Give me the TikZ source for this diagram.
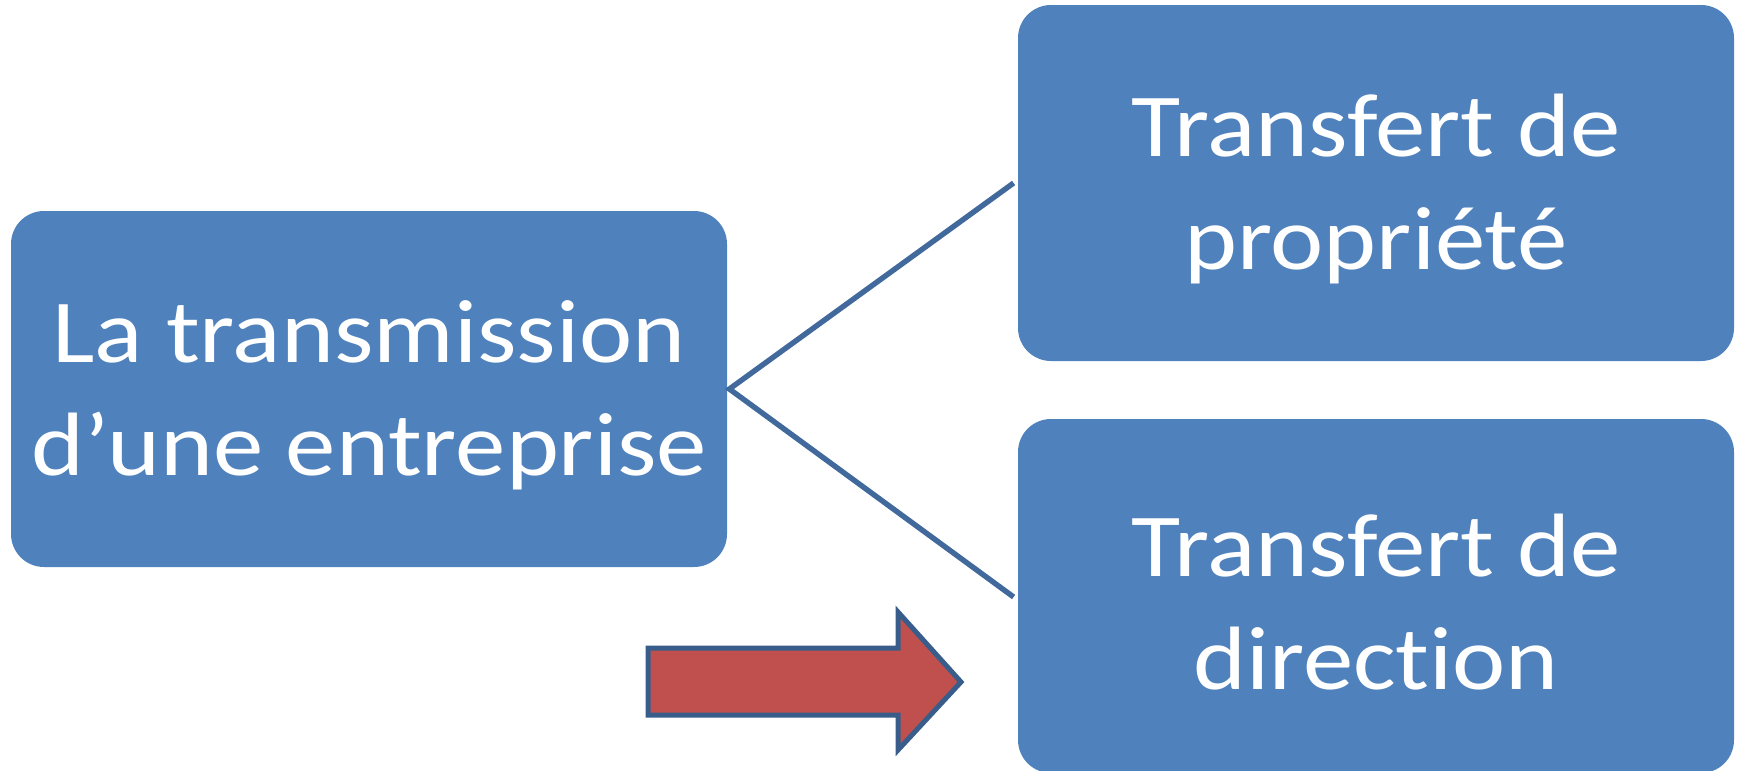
\documentclass[tikz,border=0pt]{standalone}
\usepackage{fontspec}
\setmainfont{Carlito}[FakeStretch=1.12, RawFeature={-liga}]
\definecolor{boxblue}{HTML}{4F81BD}
\definecolor{lineblue}{HTML}{41699C}
\definecolor{arrowred}{HTML}{C0504D}
\definecolor{arrowedge}{HTML}{385D8A}
\begin{document}
\begin{tikzpicture}[x=0.5pt,y=-0.5pt,
  box/.style={fill=boxblue, rounded corners=16.5pt, inner sep=0pt,
    minimum width=358pt, minimum height=178pt, align=center, text=white,
    font=\fontsize{45}{56.5}\selectfont},
  conn/.style={draw=lineblue, line width=2.7pt}]
\path[use as bounding box] (0,0) rectangle (1741,771);
\node[box] (L) at (369,389) {};
\node[box] (T) at (1376,183) {};
\node[box, minimum height=177pt] (B) at (1376,596) {};
\node[box, fill=none, minimum width=0pt, minimum height=0pt] (Lt) at ([yshift=-3pt]L.center) {La transmission\\d’une entreprise};
\node[box, fill=none, minimum width=0pt, minimum height=0pt] (Tt) at ([yshift=-3pt]T.center) {Transfert de\\propriété};
\node[box, fill=none, minimum width=0pt, minimum height=0pt] (Bt) at ([yshift=-3pt]B.center) {Transfert de\\direction};
\coordinate (tend) at ([xshift=-2pt]T.west);
\coordinate (bend) at ([xshift=-2pt, yshift=-0.5pt]B.west);
\draw[conn] (tend) -- ([xshift=1pt]L.east) -- (bend);
\draw[fill=arrowred, draw=arrowedge, line width=2.5pt, miter limit=10]
  (648,648) -- (898,648) -- (898,612) -- (961,682) -- (898,750) -- (898,715) -- (648,715) -- cycle;
\end{tikzpicture}
\end{document}
